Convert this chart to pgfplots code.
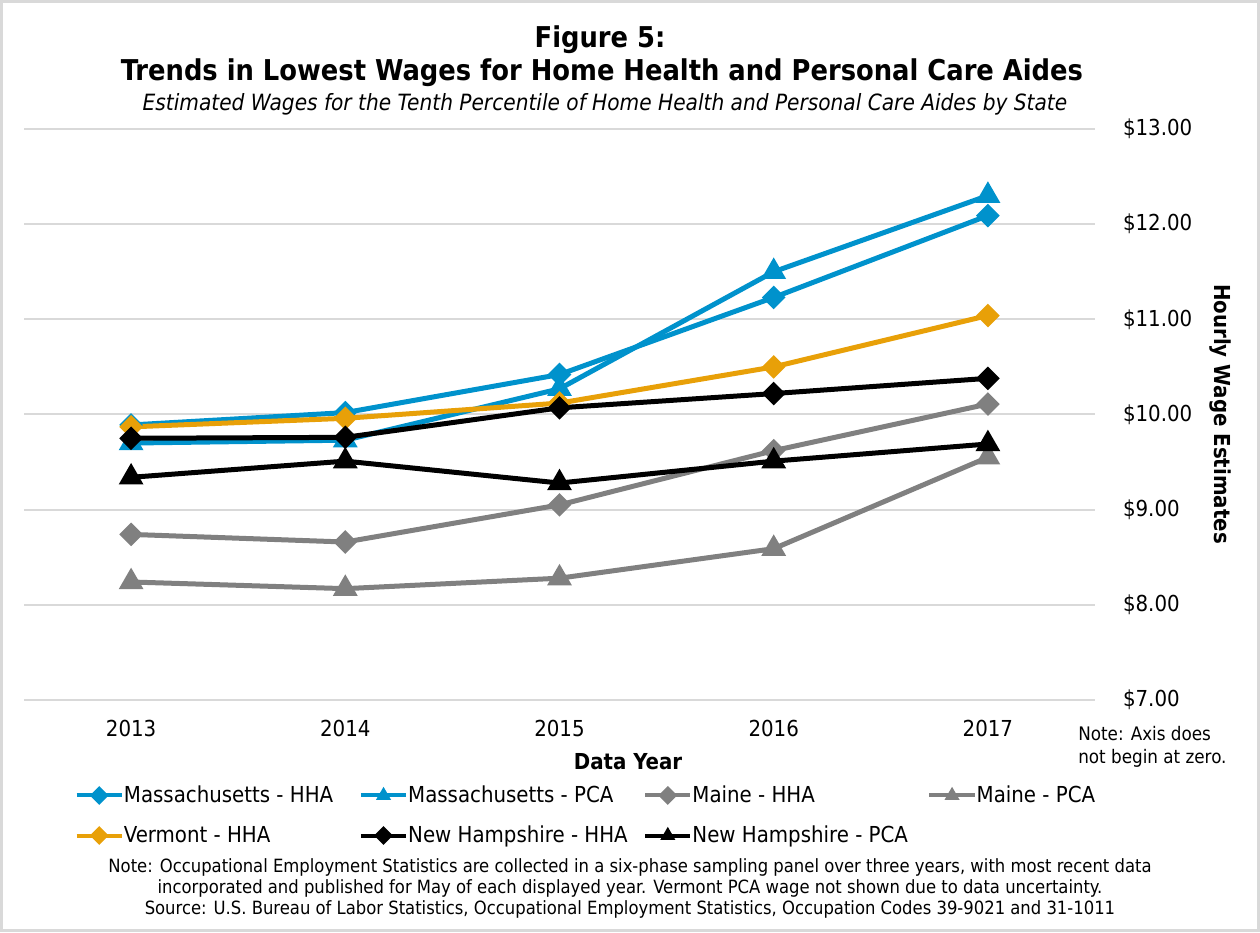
\documentclass[border=0pt]{standalone}
\usepackage{fontspec}
\setmainfont{DejaVu Sans Condensed}
\usepackage{pgfplots}
\pgfplotsset{compat=1.18}

\definecolor{mablue}{RGB}{0,146,204}
\definecolor{vtorange}{RGB}{232,160,8}
\definecolor{megray}{RGB}{128,128,128}
\definecolor{gridgray}{RGB}{217,217,217}

% 1px of the reference = 0.75pt
\newcommand{\legtxt}[1]{\makebox[176.2pt][l]{#1}}

\begin{document}
\begin{tikzpicture}
\useasboundingbox (0,0) rectangle (945pt,699pt);
\draw[gridgray, line width=2.25pt] (1.125pt,1.125pt) rectangle (943.875pt,697.875pt);

\begin{axis}[
  at={(18pt,174pt)}, anchor=south west,
  width=803.25pt, height=428.25pt, scale only axis,
  xmin=2012.5, xmax=2017.5,
  ymin=7, ymax=13,
  xtick={2013,2014,2015,2016,2017},
  xticklabels={2013,2014,2015,2016,2017},
  ytick={7,8,...,13},
  yticklabel pos=right,
  yticklabel={\$\pgfmathprintnumber[fixed,fixed zerofill,precision=2]{\tick}},
  /pgf/number format/assume math mode=true,
  axis line style={draw=none},
  major tick length=0pt,
  ymajorgrids,
  grid style={gridgray, line width=1.5pt},
  tick label style={font=\fontsize{16.5}{19}\selectfont},
  yticklabel style={anchor=west, xshift=17.5pt},
  xticklabel style={anchor=center, yshift=-21pt},
  every axis plot/.append style={line width=3.75pt},
  legend columns=4,
  legend cell align=left,
  legend style={
    at={(0.047,-0.148)}, anchor=north west,
    draw=none, fill=none, inner sep=0pt,
    column sep=0pt, row sep=14pt,
    font=\fontsize{16.5}{19}\selectfont,
    nodes={inner xsep=0pt, inner ysep=1pt},
  },
  legend image code/.code={
    \draw[#1, line width=3pt, mark size=3.5pt, mark repeat=2, mark phase=2]
      plot coordinates {(0pt,0pt) (17pt,0pt) (34pt,0pt)};
  },
]
\addplot[color=mablue, mark=square*, mark size=4.4pt, mark options={rotate=45, solid}]
  coordinates {(2013,9.89) (2014,10.02) (2015,10.42) (2016,11.23) (2017,12.09)};
\addlegendentry{\legtxt{Massachusetts - HHA}}
\addplot[color=mablue, mark=triangle*, mark size=7pt, mark options={solid}]
  coordinates {(2013,9.70) (2014,9.73) (2015,10.27) (2016,11.50) (2017,12.30)};
\addlegendentry{\legtxt{Massachusetts - PCA}}
\addplot[color=megray, mark=square*, mark size=4.4pt, mark options={rotate=45, solid}]
  coordinates {(2013,8.74) (2014,8.66) (2015,9.05) (2016,9.62) (2017,10.11)};
\addlegendentry{\legtxt{Maine - HHA}}
\addplot[color=megray, mark=triangle*, mark size=7pt, mark options={solid}]
  coordinates {(2013,8.24) (2014,8.17) (2015,8.28) (2016,8.59) (2017,9.55)};
\addlegendentry{\legtxt{Maine - PCA}}
\addplot[color=vtorange, mark=square*, mark size=4.4pt, mark options={rotate=45, solid}]
  coordinates {(2013,9.87) (2014,9.96) (2015,10.12) (2016,10.50) (2017,11.04)};
\addlegendentry{\legtxt{Vermont - HHA}}
\addplot[color=black, mark=square*, mark size=4.4pt, mark options={rotate=45, solid}]
  coordinates {(2013,9.75) (2014,9.76) (2015,10.07) (2016,10.22) (2017,10.38)};
\addlegendentry{\legtxt{New Hampshire - HHA}}
\addplot[color=black, mark=triangle*, mark size=7pt, mark options={solid}]
  coordinates {(2013,9.34) (2014,9.51) (2015,9.28) (2016,9.51) (2017,9.69)};
\addlegendentry{\legtxt{New Hampshire - PCA}}
\end{axis}

\node[font=\bfseries\fontsize{21.5}{26}\selectfont] at (450pt,669pt) {Figure 5:};
\node[font=\bfseries\fontsize{21.5}{26}\selectfont] at (451.5pt,644.25pt)
  {Trends in Lowest Wages for Home Health and Personal Care Aides};
\node[font=\itshape\fontsize{16.8}{20}\selectfont] at (453.75pt,621pt)
  {Estimated Wages for the Tenth Percentile of Home Health and Personal Care Aides by State};
\node[font=\bfseries\fontsize{16.5}{19}\selectfont, rotate=-90] at (915pt,388.5pt)
  {Hourly Wage Estimates};
\node[font=\bfseries\fontsize{16.5}{19}\selectfont] at (471pt,127.5pt) {Data Year};
\node[font=\fontsize{14}{17.25}\selectfont, align=left, anchor=west, inner sep=0pt]
  at (808.5pt,139pt) {Note: Axis does\\not begin at zero.};
\node[font=\fontsize{13.7}{15.75}\selectfont, align=center] at (472.5pt,33pt)
  {Note: Occupational Employment Statistics are collected in a six-phase sampling panel over three years, with most recent data\\
   incorporated and published for May of each displayed year. Vermont PCA wage not shown due to data uncertainty.\\
   Source: U.S. Bureau of Labor Statistics, Occupational Employment Statistics, Occupation Codes 39-9021 and 31-1011};
\end{tikzpicture}
\end{document}
